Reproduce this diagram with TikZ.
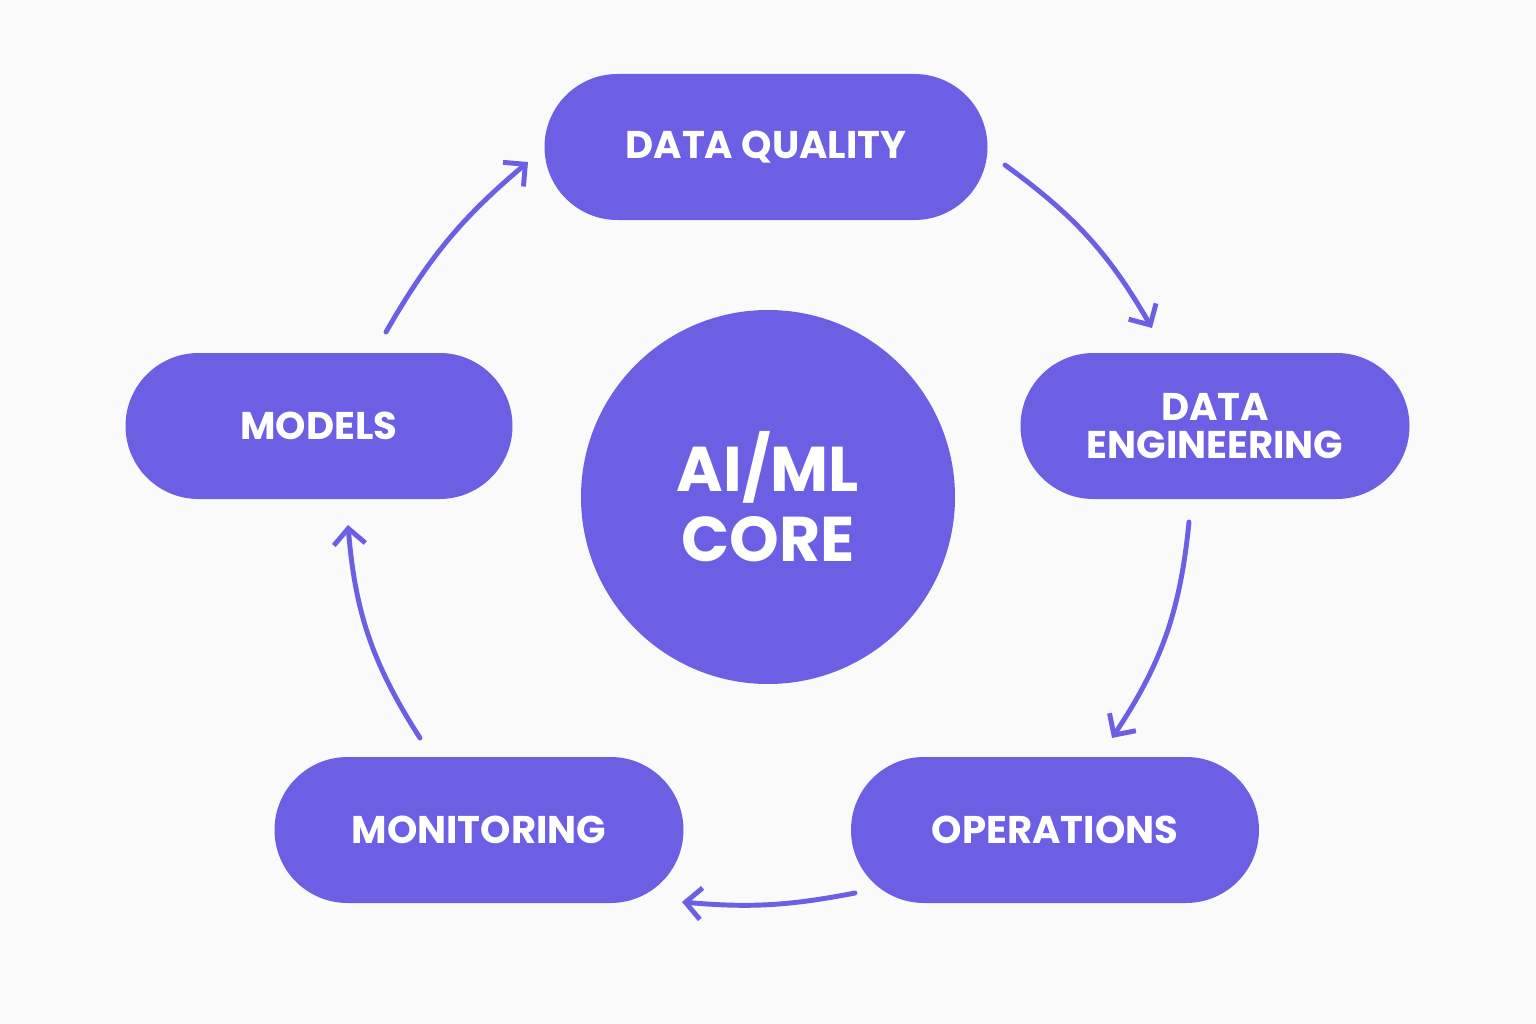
\documentclass[tikz,border=0pt]{standalone}
\usepackage{fontspec}
\setmainfont{Poppins}
\usetikzlibrary{arrows.meta,shapes.misc}
\definecolor{vio}{HTML}{6C5FE3}
\begin{document}
\begin{tikzpicture}[x=0.02cm,y=-0.02cm,
  pill/.style={rounded rectangle,fill=vio,text=white,minimum height=146*0.02cm,font=\bfseries\fontsize{22}{24}\selectfont,align=center,inner sep=0pt},
  flow/.style={draw=vio,line width=2.8pt,line cap=round,-{Straight Barb[length=9pt,width=18pt,line width=2.8pt]}}]
\fill[white!98!black] (0,0) rectangle (1536,1024);
\node[pill,minimum width=443*0.02cm] (dq) at (766,147) {DATA QUALITY};
\node[pill,minimum width=389*0.02cm] (de) at (1215,426) {DATA\\[-2pt]ENGINEERING};
\node[pill,minimum width=408*0.02cm] (op) at (1055,830) {OPERATIONS};
\node[pill,minimum width=409*0.02cm] (mo) at (479,830) {MONITORING};
\node[pill,minimum width=387*0.02cm] (md) at (319,426) {MODELS};
\node[circle,fill=vio,text=white,minimum size=374*0.02cm,align=center,font=\bfseries\fontsize{36}{40}\selectfont] (core) at (768,497) {AI/ML\\CORE};
\coordinate (a1) at (1005,165); \coordinate (b1) at (1152,328);
\coordinate (a2) at (1189,522); \coordinate (b2) at (1112,738);
\coordinate (a3) at (855,893); \coordinate (b3) at (682,902);
\coordinate (a4) at (420,738); \coordinate (b4) at (348,525);
\coordinate (a5) at (386,332); \coordinate (b5) at (528,162);
\draw[flow] (a1) to[bend left=12] (b1);
\draw[flow] (a2) to[bend left=14] (b2);
\draw[flow] (a3) to[bend left=8] (b3);
\draw[flow] (a4) to[bend left=14] (b4);
\draw[flow] (a5) to[bend left=10] (b5);
\end{tikzpicture}
\end{document}
